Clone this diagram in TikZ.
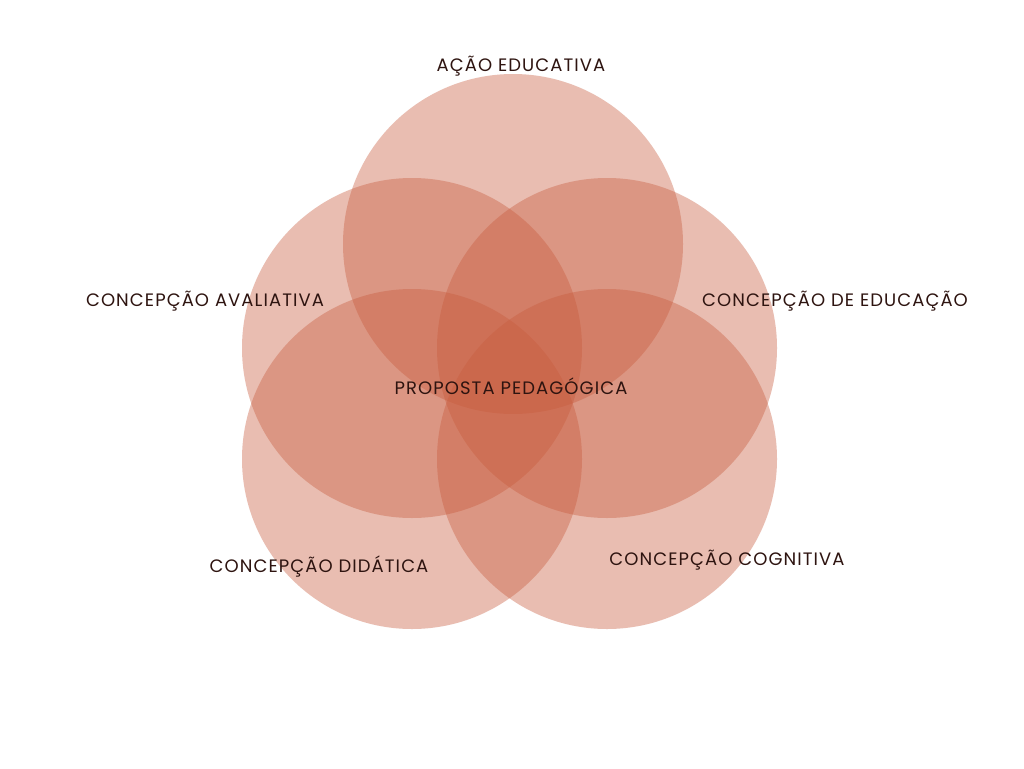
\documentclass[tikz,border=0pt]{standalone}
\usepackage{fontspec}
\setmainfont{Poppins}[LetterSpace=6]
\begin{document}
\begin{tikzpicture}[x=1pt,y=-1pt,
  petal/.style={fill={rgb,255:red,200;green,92;blue,62},fill opacity=0.4,draw=none},
  lbl/.style={text={rgb,255:red,46;green,20;blue,16},font=\fontsize{18}{21}\selectfont,anchor=base,inner sep=0pt}]
\useasboundingbox[fill=white] (0,0) rectangle (1024,768);
\fill[petal] (513,244) circle[radius=170];
\fill[petal] (412,348) circle[radius=170];
\fill[petal] (607,348) circle[radius=170];
\fill[petal] (412,459) circle[radius=170];
\fill[petal] (607,459) circle[radius=170];
\node[lbl] (a) at (521,71) {AÇÃO EDUCATIVA};
\node[lbl] (b) at (205,306) {CONCEPÇÃO AVALIATIVA};
\node[lbl] (c) at (835,306) {CONCEPÇÃO DE EDUCAÇÃO};
\node[lbl] (p) at (511,394) {PROPOSTA PEDAGÓGICA};
\node[lbl] (d) at (319,572) {CONCEPÇÃO DIDÁTICA};
\node[lbl] (e) at (727,565) {CONCEPÇÃO COGNITIVA};
\end{tikzpicture}
\end{document}
